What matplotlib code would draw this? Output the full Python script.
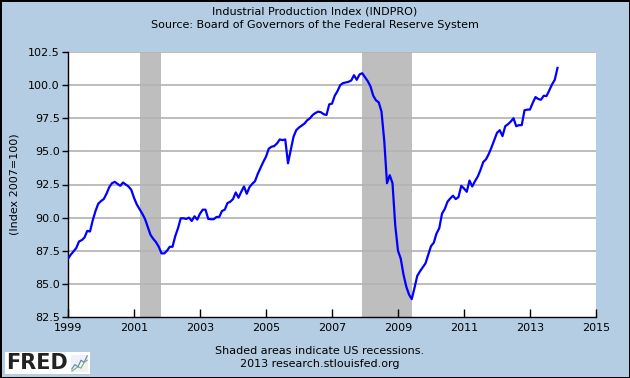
import matplotlib
matplotlib.use("Agg")
import matplotlib.pyplot as plt
import numpy as np

# Industrial production index, monthly, Jan 1999 .. Nov 2013
start_year = 1999
indpro = [
    # 1999
    86.9, 87.2, 87.45, 87.7, 88.2, 88.3, 88.5, 89.0, 88.95, 89.8, 90.5, 91.05,
    # 2000
    91.25, 91.4, 91.8, 92.3, 92.6, 92.7, 92.55, 92.4, 92.65, 92.5, 92.35, 92.1,
    # 2001
    91.5, 91.0, 90.65, 90.3, 89.9, 89.3, 88.7, 88.4, 88.15, 87.8, 87.3, 87.3,
    # 2002
    87.5, 87.8, 87.8, 88.6, 89.2, 89.95, 89.95, 89.9, 90.0, 89.75, 90.1, 89.85,
    # 2003
    90.3, 90.6, 90.6, 89.9, 89.88, 89.88, 90.05, 90.05, 90.5, 90.6, 91.1, 91.2,
    # 2004
    91.4, 91.9, 91.5, 91.95, 92.35, 91.8, 92.3, 92.55, 92.75, 93.3, 93.75, 94.2,
    # 2005
    94.6, 95.2, 95.35, 95.4, 95.6, 95.9, 95.85, 95.9, 94.1, 95.1, 96.1, 96.6,
    # 2006
    96.8, 96.95, 97.1, 97.35, 97.5, 97.75, 97.9, 98.0, 97.95, 97.8, 97.75, 98.55,
    # 2007
    98.6, 99.2, 99.55, 100.0, 100.15, 100.2, 100.25, 100.35, 100.75, 100.4, 100.8, 100.9,
    # 2008
    100.6, 100.3, 99.9, 99.2, 98.85, 98.7, 98.0, 95.8, 92.6, 93.2, 92.6, 89.4,
    # 2009
    87.5, 86.9, 85.7, 84.8, 84.2, 83.85, 84.7, 85.6, 85.95, 86.25, 86.55, 87.2,
    # 2010
    87.85, 88.1, 88.8, 89.2, 90.3, 90.65, 91.2, 91.45, 91.65, 91.4, 91.55, 92.4,
    # 2011
    92.2, 91.95, 92.8, 92.35, 92.75, 93.1, 93.6, 94.2, 94.4, 94.8, 95.3, 95.85,
    # 2012
    96.4, 96.6, 96.15, 96.9, 97.05, 97.25, 97.5, 96.9, 96.98, 96.98, 98.1, 98.15,
    # 2013
    98.16, 98.66, 99.1, 98.95, 98.9, 99.2, 99.17, 99.6, 100.05, 100.4, 101.3,
]

# recessions (decimal years): Mar 2001 - Nov 2001, Dec 2007 - Jun 2009
rec_start = [2001 + 2 / 12, 2007 + 11 / 12]
rec_end = [2001 + 10 / 12, 2009 + 5 / 12]

xticks = [1999, 2001, 2003, 2005, 2007, 2009, 2011, 2013, 2015]
yticks = [82.5, 85.0, 87.5, 90.0, 92.5, 95.0, 97.5, 100.0, 102.5]

# little icon next to the FRED logo
icon_blue = [1, 2, 1.5, 3, 2.5, 4]
icon_green = [0.5, 1, 1.5, 1.2, 2.5, 3]

bg = "#B4CDE3"
dates = start_year + np.arange(len(indpro)) / 12.0

fig = plt.figure(figsize=(6.3, 3.78), dpi=100, facecolor=bg)
fig.patch.set_edgecolor("black")
fig.patch.set_linewidth(2)

ax = fig.add_axes([68 / 630, 1 - 317 / 378, (596 - 68) / 630, (317 - 52) / 378])
ax.set_facecolor("white")

for s, e in zip(rec_start, rec_end):
    ax.axvspan(s, e, color="#BEBEBE", lw=0, zorder=1)

for yv in yticks[1:]:
    ax.axhline(yv, color="#B2B2B2", lw=1.2, zorder=2)

ax.plot(dates, indpro, color="#0000FF", lw=1.6, zorder=3)

ax.set_xlim(1999, 2015)
ax.set_ylim(82.5, 102.5)
ax.set_xticks(xticks)
ax.set_xticklabels([str(t) for t in xticks])
ax.set_yticks(yticks)
ax.set_yticklabels([f"{t:.1f}" for t in yticks])
ax.tick_params(axis="x", direction="in", length=6, width=1, labelsize=8, pad=4)
ax.tick_params(axis="y", direction="out", length=4, width=1, labelsize=8, pad=2)

for side in ["top", "right"]:
    ax.spines[side].set_visible(False)
for side in ["left", "bottom"]:
    ax.spines[side].set_color("black")
    ax.spines[side].set_linewidth(1)

ax.set_ylabel("(Index 2007=100)", fontsize=8, labelpad=6)

fig.text(0.5, 1 - 11 / 378, "Industrial Production Index (INDPRO)",
         ha="center", va="center", fontsize=8)
fig.text(0.5, 1 - 25 / 378, "Source: Board of Governors of the Federal Reserve System",
         ha="center", va="center", fontsize=8)
fig.text(320 / 630, 1 - 351 / 378, "Shaded areas indicate US recessions.",
         ha="center", va="center", fontsize=8)
fig.text(320 / 630, 1 - 364 / 378, "2013 research.stlouisfed.org",
         ha="center", va="center", fontsize=8)

# FRED logo
fig.patches.append(plt.Rectangle((5 / 630, 1 - 374 / 378), 85 / 630, 22 / 378,
                                 transform=fig.transFigure, facecolor="white",
                                 edgecolor="none", zorder=1))
fig.text(6 / 630, 1 - 363 / 378, "FRED", ha="left", va="center", fontsize=15,
         fontweight="bold", color="#222222", zorder=2)
icon = fig.add_axes([71 / 630, 1 - 372 / 378, 17 / 630, 17 / 378])
icon.set_zorder(3)
icon.plot(icon_blue, color="#5A7FBF", lw=0.8)
icon.plot(icon_green, color="#7FB05A", lw=0.8)
icon.set_facecolor("#EEF2F7")
icon.set_xticks([])
icon.set_yticks([])
for sp in icon.spines.values():
    sp.set_visible(False)

fig.savefig("out.png", dpi=100, facecolor=bg, edgecolor="black")
